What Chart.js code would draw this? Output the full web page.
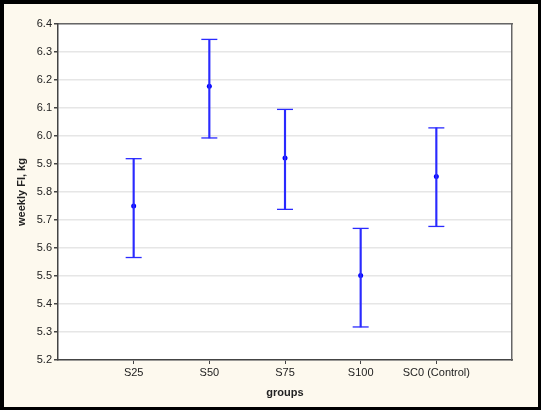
<!DOCTYPE html>
<html>
<head>
<meta charset="utf-8">
<script src="https://cdn.jsdelivr.net/npm/chart.js@4/dist/chart.umd.min.js"></script>
<style>
    html, body { margin: 0; padding: 0; background: #fff; }
    .frame {
        box-sizing: border-box;
        width: 541px; height: 410px;
        border: 3px solid #000;
        border-left-width: 4px;
        border-top-width: 4px;
        background: #fdf9ee;
    }
    .frame canvas { display: block; }
</style>
</head>
<body>
<div class="frame"><canvas id="fiChart" width="534" height="403"></canvas></div>
<script>
const groups = ['S25', 'S50', 'S75', 'S100', 'SC0 (Control)'];
const means = [5.75, 6.178, 5.921, 5.502, 5.855];
const lowerVals = [5.566, 5.993, 5.738, 5.318, 5.677];
const upperVals = [5.919, 6.345, 6.095, 5.670, 6.029];
const yMin = 5.2, yMax = 6.4, yStep = 0.1;

const lineBlue = '#2a2aff';
const dotBlue = '#0000ff';
const txtFont = { family: 'Liberation Sans, Arial, sans-serif', size: 11 };

function fixWidth(w) { return scale => { scale.width = w; }; }
function fixHeight(h) { return scale => { scale.height = h; }; }

// white plot area on the cream page
const plotBg = {
    id: 'plotBg',
    beforeDraw(chart) {
        const { ctx, chartArea: a } = chart;
        ctx.save();
        ctx.fillStyle = '#ffffff';
        ctx.fillRect(a.left, a.top, a.right - a.left, a.bottom - a.top);
        ctx.restore();
    }
};

const whiskers = groups.map((g, i) => ({ x: i + 1, y: [lowerVals[i], upperVals[i]] }));
const caps = groups.flatMap((g, i) => [{ x: i + 1, y: lowerVals[i] }, { x: i + 1, y: upperVals[i] }]);
const meanPts = groups.map((g, i) => ({ x: i + 1, y: means[i] }));

new Chart(document.getElementById('fiChart').getContext('2d'), {
    type: 'bar',
    data: {
        datasets: [
            {
                type: 'bar',
                data: whiskers,
                backgroundColor: lineBlue,
                borderWidth: 0,
                barThickness: 1.5,
                grouped: false
            },
            {
                type: 'scatter',
                data: caps,
                pointStyle: 'line',
                pointRadius: 8,
                borderColor: lineBlue,
                borderWidth: 1.3
            },
            {
                type: 'scatter',
                data: meanPts,
                pointStyle: 'circle',
                pointRadius: 2.5,
                backgroundColor: dotBlue,
                borderColor: dotBlue,
                borderWidth: 0
            }
        ]
    },
    options: {
        responsive: false,
        animation: false,
        layout: { padding: 0 },
        plugins: { legend: { display: false }, tooltip: { enabled: false } },
        scales: {
            x: {
                type: 'linear',
                position: 'bottom',
                offset: false,
                min: 0, max: 6,
                afterBuildTicks: scale => { scale.ticks = scale.ticks.filter(t => t.value >= 1 && t.value <= 5); },
                afterFit: fixHeight(47),
                ticks: {
                    stepSize: 1,
                    autoSkip: false,
                    maxRotation: 0,
                    padding: 2,
                    color: '#222',
                    font: txtFont,
                    callback: v => groups[v - 1] || ''
                },
                grid: { offset: false, drawOnChartArea: false, tickLength: 4, tickColor: '#444' },
                border: { color: '#444', width: 1.5 },
                title: {
                    display: true,
                    text: 'groups',
                    color: '#222',
                    font: { family: txtFont.family, size: 11, weight: 'bold' },
                    padding: { top: 0, bottom: 7 }
                }
            },
            xTop: {
                type: 'linear',
                position: 'top',
                offset: false,
                min: 0, max: 6,
                afterFit: fixHeight(20),
                ticks: { display: false },
                grid: { offset: false, drawOnChartArea: false, drawTicks: false },
                border: { color: '#666', width: 1.5 }
            },
            y: {
                position: 'left',
                min: yMin, max: yMax,
                afterFit: fixWidth(54),
                ticks: {
                    stepSize: yStep,
                    padding: 2,
                    color: '#222',
                    font: txtFont,
                    callback: v => Number(v).toFixed(1)
                },
                grid: { color: '#e6e6e6', lineWidth: 1.5, tickLength: 4, tickColor: '#444' },
                border: { color: '#444', width: 1.5 },
                title: {
                    display: true,
                    text: 'weekly FI, kg',
                    color: '#222',
                    font: { family: txtFont.family, size: 11, weight: 'bold' },
                    padding: { top: 11, bottom: 0 }
                }
            },
            yRight: {
                position: 'right',
                min: yMin, max: yMax,
                afterFit: fixWidth(26),
                ticks: { display: false },
                grid: { drawOnChartArea: false, drawTicks: false },
                border: { color: '#666', width: 1.5 }
            }
        }
    },
    plugins: [plotBg]
});
</script>
</body>
</html>
